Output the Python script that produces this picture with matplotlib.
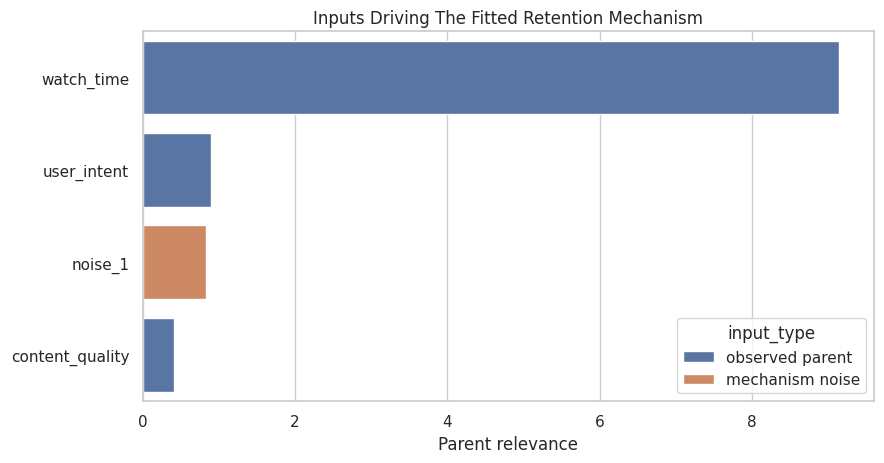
import matplotlib
matplotlib.use("Agg")
import matplotlib.pyplot as plt
import seaborn as sns
import pandas as pd

# parent relevance of each input to the fitted mechanism
inputs = ["watch_time", "user_intent", "noise_1", "content_quality"]
relevance = [9.14, 0.895, 0.833, 0.41]
input_type = ["observed parent", "observed parent", "mechanism noise", "observed parent"]

df = pd.DataFrame({"input": inputs, "relevance": relevance, "input_type": input_type})

sns.set_theme(style="whitegrid")
fig, ax = plt.subplots(figsize=(8.84, 4.64), dpi=100)
sns.barplot(data=df, x="relevance", y="input", hue="input_type",
            hue_order=["observed parent", "mechanism noise"], dodge=False, ax=ax)
ax.set_title("Inputs Driving The Fitted Retention Mechanism")
ax.set_xlabel("Parent relevance")
ax.set_ylabel("")
ax.legend(title="input_type", loc="lower right")
fig.subplots_adjust(left=0.1612, right=0.9887, bottom=0.1336, top=0.9304)
fig.savefig("out.png")
